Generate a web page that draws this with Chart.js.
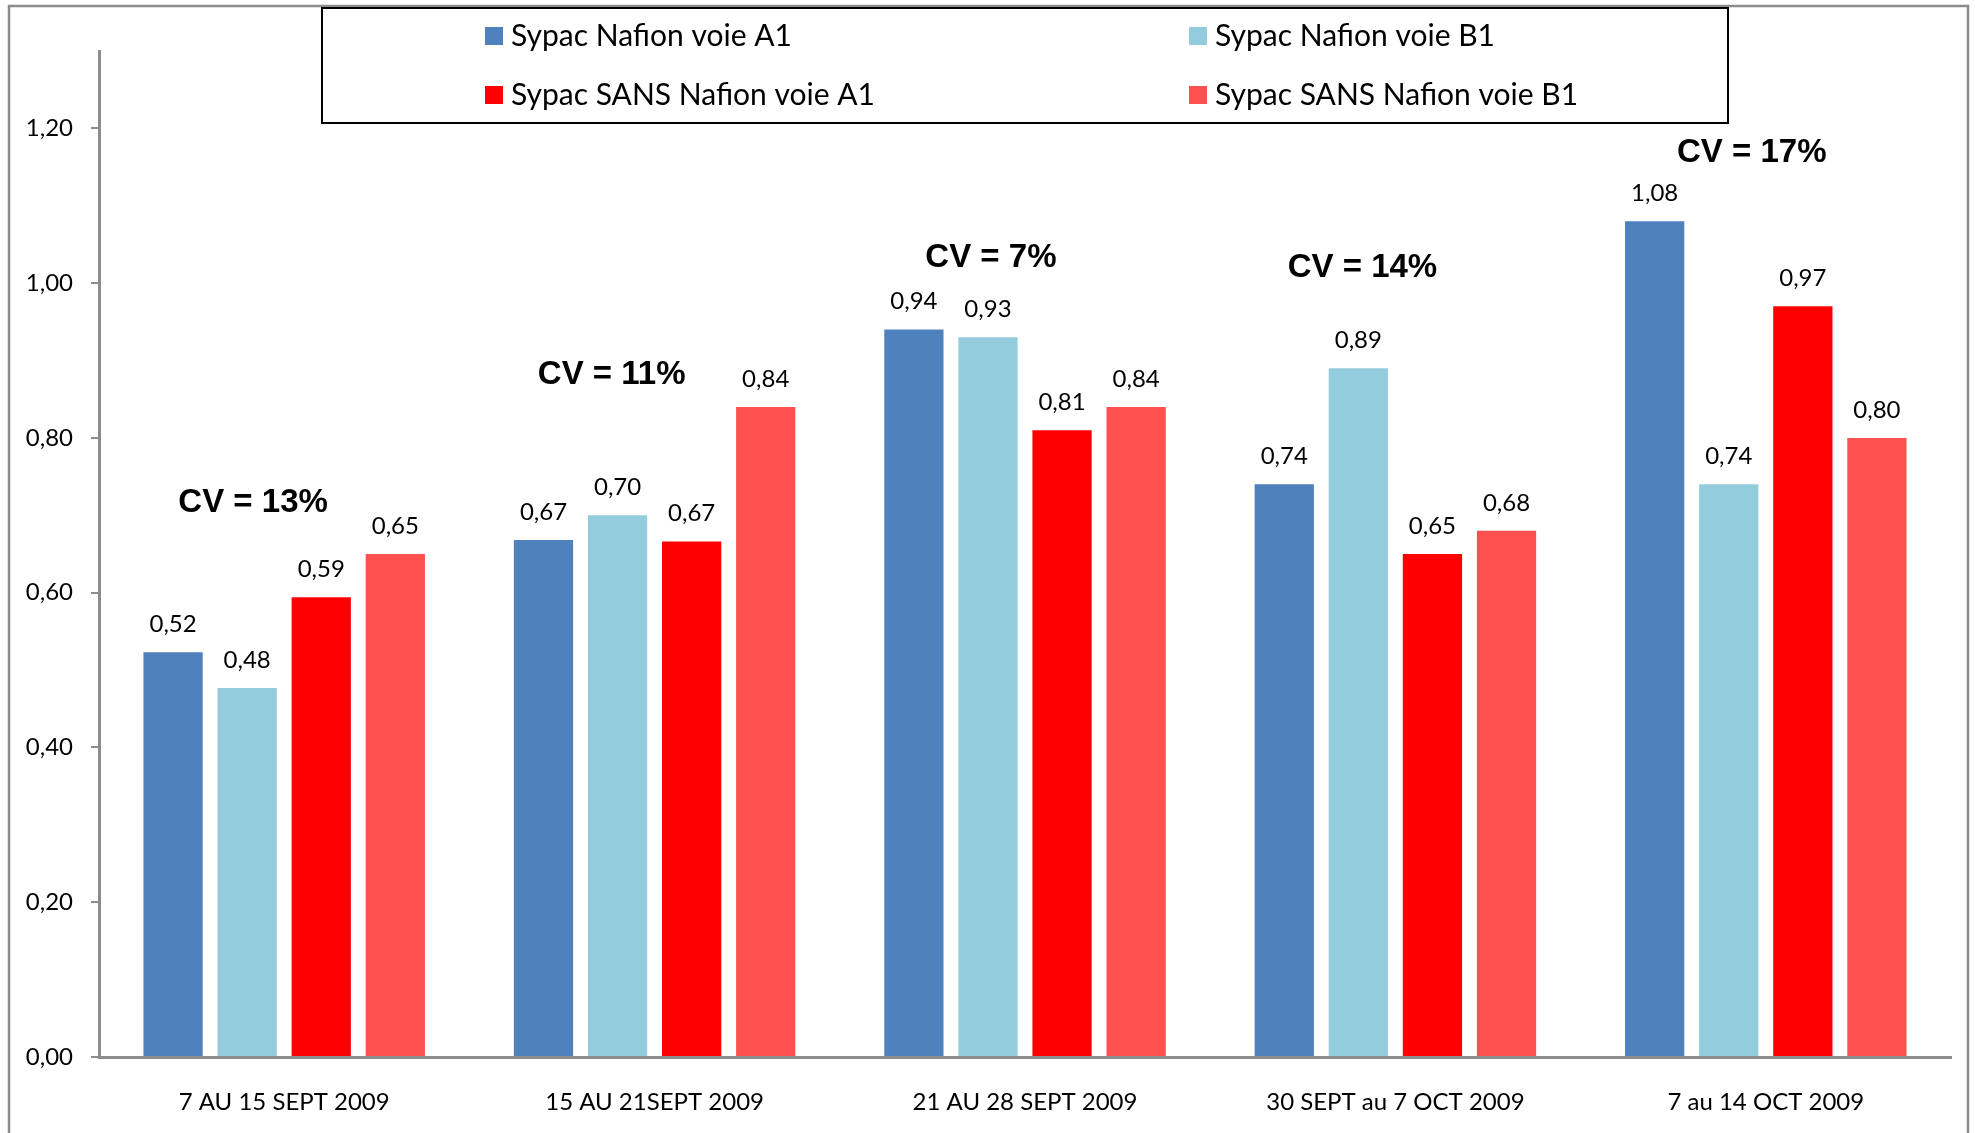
<!DOCTYPE html>
<html>
<head>
<meta charset="utf-8">
<script src="https://cdn.jsdelivr.net/npm/chart.js@4/dist/chart.umd.min.js"></script>
<style>
    body { margin: 0; background: #fff; }
    #wrap { width: 1975px; height: 1133px; position: relative; }
</style>
</head>
<body>
<div id="wrap"><canvas id="cvChart"></canvas></div>
<script>
const periods = ["7 AU 15 SEPT 2009", "15 AU 21SEPT 2009", "21 AU 28 SEPT 2009", "30 SEPT au 7 OCT 2009", "7 au 14 OCT 2009"];
const nafionA1 = [0.523, 0.668, 0.94, 0.74, 1.08];
const nafionB1 = [0.477, 0.70, 0.93, 0.89, 0.74];
const sansA1 = [0.594, 0.666, 0.81, 0.65, 0.97];
const sansB1 = [0.65, 0.84, 0.84, 0.68, 0.80];
const yTicks = [0, 0.2, 0.4, 0.6, 0.8, 1.0, 1.2];
// CV notes, placed on the category index / value axes
const cvText = ["CV = 13%", "CV = 11%", "CV = 7%", "CV = 14%", "CV = 17%"];
const cvAt = [-0.084, 0.884, 1.908, 2.911, 3.962];
const cvVal = [0.716, 0.882, 1.032, 1.02, 1.168];

const fmt = v => v.toFixed(2).replace(".", ",");

Chart.defaults.font.family = "Lato, 'Liberation Sans', sans-serif";
Chart.defaults.color = "#000";

const frame = {
    id: "frame",
    afterDraw(chart) {
        const ctx = chart.ctx;
        ctx.save();
        ctx.strokeStyle = "#8c8c8c";
        ctx.lineWidth = 2.5;
        ctx.strokeRect(9, 6, 1959, 1200);
        ctx.restore();
    }
};

const barLabels = {
    id: "barLabels",
    afterDatasetsDraw(chart) {
        const ctx = chart.ctx;
        ctx.save();
        ctx.font = "24px Lato";
        ctx.fillStyle = "#000";
        ctx.textAlign = "center";
        ctx.textBaseline = "middle";
        chart.data.datasets.forEach((ds, i) => {
            chart.getDatasetMeta(i).data.forEach((bar, j) => {
                ctx.fillText(fmt(ds.data[j]), bar.x, bar.y - 28);
            });
        });
        // CV notes
        const xs = chart.scales.x, ys = chart.scales.y;
        ctx.font = "bold 33px 'Liberation Sans', Arial, sans-serif";
        cvText.forEach((t, i) => {
            ctx.fillText(t, xs.getPixelForValue(cvAt[i]), ys.getPixelForValue(cvVal[i]));
        });
        ctx.restore();
    }
};

const legendBox = {
    id: "legendBox",
    afterDraw(chart) {
        const ctx = chart.ctx;
        ctx.save();
        ctx.fillStyle = "#fff";
        ctx.fillRect(322, 8, 1406, 115);
        ctx.strokeStyle = "#000";
        ctx.lineWidth = 2;
        ctx.strokeRect(322, 8, 1406, 115);
        const cols = [485, 1189];
        const rows = [36, 95];
        ctx.font = "30px Lato";
        ctx.textBaseline = "middle";
        chart.data.datasets.forEach((ds, i) => {
            const x = cols[i % 2], y = rows[Math.floor(i / 2)];
            ctx.fillStyle = ds.backgroundColor;
            ctx.fillRect(x, y - 9, 18, 18);
            ctx.fillStyle = "#000";
            ctx.fillText(ds.label, x + 26, y);
        });
        ctx.restore();
    }
};

new Chart(document.getElementById("cvChart"), {
    type: "bar",
    data: {
        labels: periods,
        datasets: [
            { label: "Sypac Nafion voie A1", data: nafionA1, backgroundColor: "#4F81BD" },
            { label: "Sypac Nafion voie B1", data: nafionB1, backgroundColor: "#93CDDD" },
            { label: "Sypac SANS Nafion voie A1", data: sansA1, backgroundColor: "#FF0000" },
            { label: "Sypac SANS Nafion voie B1", data: sansB1, backgroundColor: "#FF5050" }
        ]
    },
    options: {
        responsive: true,
        maintainAspectRatio: false,
        animation: false,
        categoryPercentage: 0.8,
        barPercentage: 0.8,
        layout: { padding: { top: 51, right: 24, left: 0, bottom: 0 } },
        plugins: {
            legend: { display: false },
            tooltip: { enabled: false }
        },
        scales: {
            x: {
                grid: { display: false, drawTicks: false },
                border: { display: true, color: "#8c8c8c", width: 3 },
                ticks: { font: { size: 24 }, padding: 31, maxRotation: 0 },
                afterFit: s => { s.height = 76; }
            },
            y: {
                min: 0,
                max: 1.3,
                grid: { drawOnChartArea: false, drawTicks: true, tickLength: 8, color: "#8c8c8c", lineWidth: 2 },
                border: { display: true, color: "#8c8c8c", width: 3 },
                ticks: {
                    stepSize: 0.2,
                    includeBounds: false,
                    font: { size: 24 },
                    padding: 18,
                    callback: v => yTicks.some(t => Math.abs(t - v) < 1e-6) ? fmt(v) : ""
                },
                afterFit: s => { s.width = 99; }
            }
        }
    },
    plugins: [frame, barLabels, legendBox]
});
</script>
</body>
</html>
